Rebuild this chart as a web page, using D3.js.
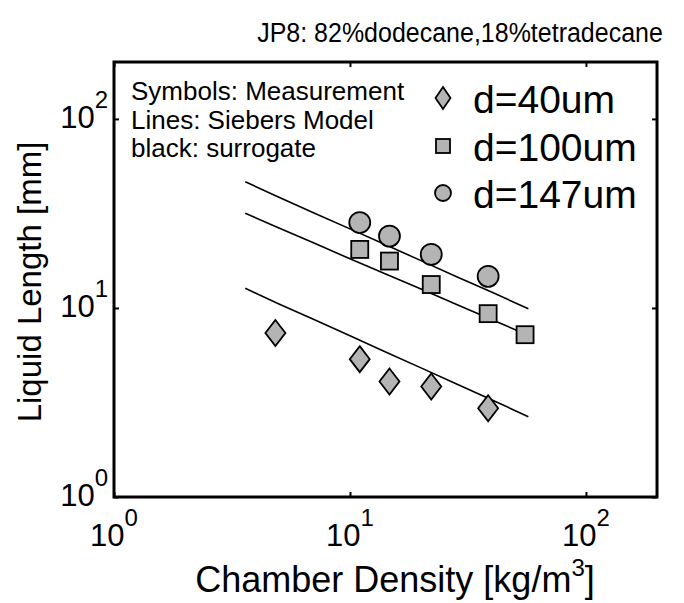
<!DOCTYPE html>
<html>
<head>
<meta charset="utf-8">
<script src="https://cdn.jsdelivr.net/npm/d3@7"></script>
<style>
  body { margin: 0; background: #fff; }
  text { font-family: "Liberation Sans", Arial, sans-serif; fill: #000; }
</style>
</head>
<body>
<svg id="chart"></svg>
<script>
// measured points (chamber density kg/m3, liquid length mm)
const densD40 = [4.83, 11.0, 14.7, 22.1, 38.5];
const lenD40 = [7.37, 5.36, 4.08, 3.84, 2.95];
const densD100 = [11.0, 14.7, 22.1, 38.5, 55.2];
const lenD100 = [20.4, 17.7, 13.3, 9.33, 7.22];
const densD147 = [11.0, 14.7, 22.1, 38.5];
const lenD147 = [28.3, 24.0, 19.2, 14.7];

// Siebers model lines
const modelDens = [3.6, 5, 7, 10, 14, 20, 28, 40, 57];
const modelD40 = [12.7, 10.5, 8.71, 7.12, 5.89, 4.82, 3.98, 3.26, 2.66];
const modelD100 = [31.7, 26.5, 22.1, 18.2, 15.2, 12.6, 10.5, 8.67, 7.16];
const modelD147 = [46.5, 38.5, 31.9, 26.2, 21.7, 17.8, 14.7, 12.1, 9.9];

const tickVals = [1, 10, 100];
const tickExp = ["0", "1", "2"];
const legendNotes = ["Symbols: Measurement", "Lines: Siebers Model", "black: surrogate"];
const legendNames = ["d=40um", "d=100um", "d=147um"];

const width = 684, height = 603;
const mLeft = 114, mRight = 657, mTop = 62, mBottom = 497;
const grey = "#b4b4b4";

const svg = d3.select("#chart").attr("width", width).attr("height", height);

const x = d3.scaleLog().domain([1, 200]).range([mLeft, mRight]);
const y = d3.scaleLog().domain([1, 200]).range([mBottom, mTop]);

// title (slightly taller glyphs, as in the source)
svg.append("text")
  .attr("transform", "translate(460,42) scale(1,1.12)")
  .attr("text-anchor", "middle")
  .attr("font-size", 25)
  .text("JP8: 82%dodecane,18%tetradecane");

// ticks on all four sides, pointing inward
const tickLen = 5;
svg.append("g").attr("transform", `translate(0,${mBottom})`)
  .call(d3.axisBottom(x).tickValues(tickVals).tickSizeInner(-tickLen).tickSizeOuter(0).tickFormat(""));
svg.append("g").attr("transform", `translate(0,${mTop})`)
  .call(d3.axisTop(x).tickValues(tickVals).tickSizeInner(-tickLen).tickSizeOuter(0).tickFormat(""));
svg.append("g").attr("transform", `translate(${mLeft},0)`)
  .call(d3.axisLeft(y).tickValues(tickVals).tickSizeInner(-tickLen).tickSizeOuter(0).tickFormat(""));
svg.append("g").attr("transform", `translate(${mRight},0)`)
  .call(d3.axisRight(y).tickValues(tickVals).tickSizeInner(-tickLen).tickSizeOuter(0).tickFormat(""));
svg.selectAll(".domain").remove();
svg.selectAll(".tick line").attr("stroke", "#000").attr("stroke-width", 2);

// frame
svg.append("rect")
  .attr("x", mLeft).attr("y", mTop)
  .attr("width", mRight - mLeft).attr("height", mBottom - mTop)
  .attr("fill", "none").attr("stroke", "#000").attr("stroke-width", 3);

// x tick labels
const xl = svg.append("g").selectAll("text").data(tickVals).join("text")
  .attr("x", d => x(d)).attr("y", 546)
  .attr("text-anchor", "middle")
  .attr("font-size", 31);
xl.append("tspan").text("10");
xl.append("tspan").attr("dy", -20).attr("font-size", 24).text((d, i) => tickExp[i]);

// y tick labels
const yl = svg.append("g").selectAll("text").data(tickVals).join("text")
  .attr("x", 108).attr("y", d => y(d) + 9)
  .attr("text-anchor", "end")
  .attr("font-size", 31);
yl.append("tspan").text("10");
yl.append("tspan").attr("dy", -20).attr("font-size", 24).text((d, i) => tickExp[i]);

// axis labels
const xlab = svg.append("text")
  .attr("x", 395).attr("y", 592)
  .attr("text-anchor", "middle")
  .attr("font-size", 36);
xlab.append("tspan").text("Chamber Density [kg/m");
xlab.append("tspan").attr("dy", -16).attr("font-size", 24).text("3");
xlab.append("tspan").attr("dy", 16).text("]");

svg.append("text")
  .attr("transform", "translate(41,282) rotate(-90)")
  .attr("text-anchor", "middle")
  .attr("font-size", 33)
  .text("Liquid Length [mm]");

// model lines
const line = d3.line().x(d => x(d[0])).y(d => y(d[1]));
[modelD40, modelD100, modelD147].forEach(vals => {
  svg.append("path")
    .datum(modelDens.map((d, i) => [d, vals[i]]))
    .attr("fill", "none")
    .attr("stroke", "#000")
    .attr("stroke-width", 1.6)
    .attr("d", line);
});

// markers
const diamond = (cx, cy, w, h) => `M${cx},${cy - h / 2}L${cx + w / 2},${cy}L${cx},${cy + h / 2}L${cx - w / 2},${cy}Z`;

svg.append("g").selectAll("path").data(densD40).join("path")
  .attr("d", (d, i) => diamond(x(d), y(lenD40[i]), 20, 26))
  .attr("fill", grey).attr("stroke", "#000").attr("stroke-width", 1.8);

svg.append("g").selectAll("rect").data(densD100).join("rect")
  .attr("x", d => x(d) - 8.5).attr("y", (d, i) => y(lenD100[i]) - 8.5)
  .attr("width", 17).attr("height", 17)
  .attr("fill", grey).attr("stroke", "#000").attr("stroke-width", 1.8);

svg.append("g").selectAll("circle").data(densD147).join("circle")
  .attr("cx", d => x(d)).attr("cy", (d, i) => y(lenD147[i]))
  .attr("r", 10.5)
  .attr("fill", grey).attr("stroke", "#000").attr("stroke-width", 1.8);

// legend notes
svg.append("g").selectAll("text").data(legendNotes).join("text")
  .attr("x", 131).attr("y", (d, i) => 100 + i * 28.5)
  .attr("font-size", 26)
  .text(d => d);

// symbol legend
const lg = svg.append("g");
const rowY = [98, 146, 193];
lg.append("path").attr("d", diamond(443, rowY[0], 15, 22))
  .attr("fill", grey).attr("stroke", "#000").attr("stroke-width", 1.8);
lg.append("rect").attr("x", 436).attr("y", rowY[1] - 7).attr("width", 14).attr("height", 14)
  .attr("fill", grey).attr("stroke", "#000").attr("stroke-width", 1.8);
lg.append("circle").attr("cx", 443).attr("cy", rowY[2]).attr("r", 8)
  .attr("fill", grey).attr("stroke", "#000").attr("stroke-width", 1.8);
lg.selectAll("text").data(legendNames).join("text")
  .attr("x", 473).attr("y", (d, i) => rowY[i] + 15)
  .attr("font-size", 39)
  .text(d => d);
</script>
</body>
</html>
